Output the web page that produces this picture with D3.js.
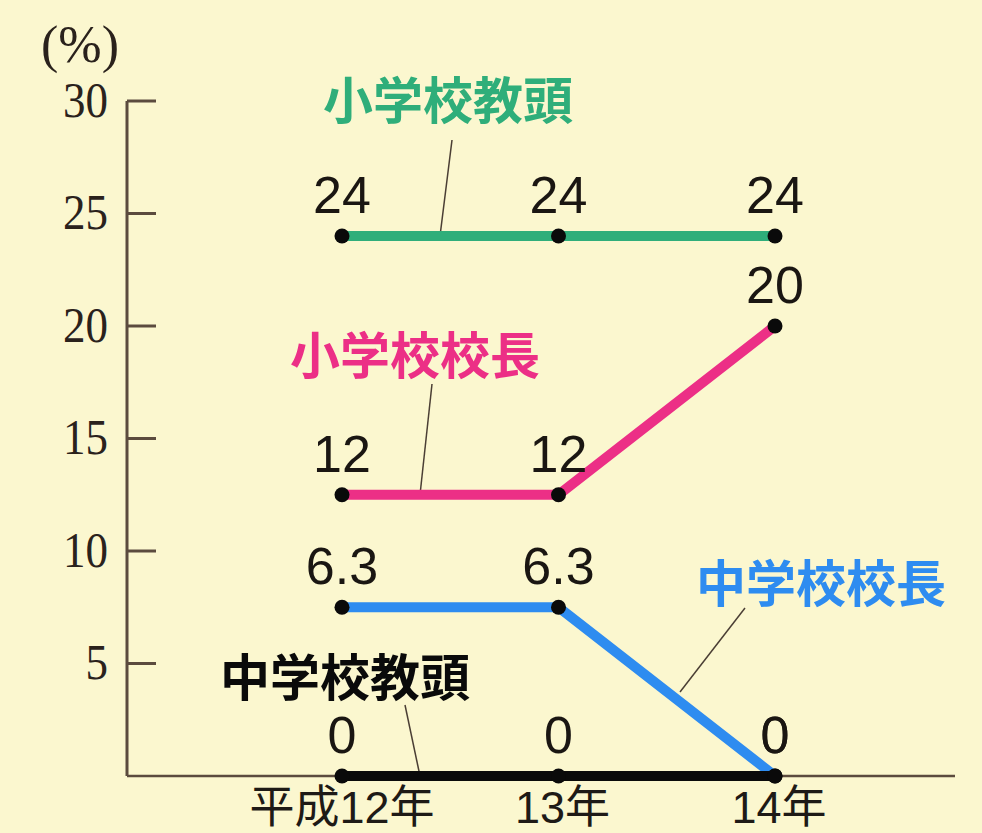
<!DOCTYPE html>
<html lang="ja">
<head>
<meta charset="utf-8">
<title>line chart</title>
<script src="https://d3js.org/d3.v7.min.js"></script>
<style>
  body{margin:0;background:#fbf7cf;}
  svg{display:block;}
</style>
</head>
<body>
<div id="chart"></div>
<script>
// data
var years = ["平成12年", "13年", "14年"]
var yTicks = [5, 10, 15, 20, 25, 30]
var seriesNames = ["小学校教頭", "小学校校長", "中学校校長", "中学校教頭"]
// plotted positions as drawn in the picture
var valsElemVice = [24, 24, 24]
var valsElemHead = [12.5, 12.5, 20]
var valsJrHead = [7.5, 7.5, 0]
var valsJrVice = [0, 0, 0]
// printed labels
var lblElemVice = ["24", "24", "24"]
var lblElemHead = ["12", "12", "20"]
var lblJrHead = ["6.3", "6.3", "0"]
var lblJrVice = ["0", "0", "0"]

var w = 982, h = 833
var svg = d3.select("#chart").append("svg").attr("width", w).attr("height", h)
svg.append("rect").attr("width", w).attr("height", h).attr("fill", "#fbf7cf")

var xScale = d3.scalePoint().domain(years).range([342, 775])
var yScale = d3.scaleLinear().domain([0, 30]).range([776, 101])

var axisColor = "#5b4b3e"

// y axis
svg.append("line").attr("x1", 127).attr("x2", 127).attr("y1", yScale(30)).attr("y2", yScale(0))
  .attr("stroke", axisColor).attr("stroke-width", 3)
svg.selectAll(".tick").data(yTicks).enter().append("line")
  .attr("x1", 127).attr("x2", 156)
  .attr("y1", function(d){ return yScale(d) }).attr("y2", function(d){ return yScale(d) })
  .attr("stroke", axisColor).attr("stroke-width", 3)
svg.selectAll(".ylab").data(yTicks).enter().append("text")
  .attr("x", 108).attr("y", function(d){ return yScale(d) + 16 })
  .attr("text-anchor", "end")
  .attr("font-family", "Liberation Serif, serif").attr("font-size", 50).attr("fill", "#2a221c")
  .attr("transform", "translate(10.8,0) scale(0.9,1)")
  .text(function(d){ return d })
svg.append("text").attr("x", 80).attr("y", 62).attr("text-anchor", "middle")
  .attr("font-family", "Liberation Serif, serif").attr("font-size", 52).attr("fill", "#2a221c")
  .text("(%)")

// x axis base line
svg.append("line").attr("x1", 127).attr("x2", 955).attr("y1", yScale(0)).attr("y2", yScale(0))
  .attr("stroke", axisColor).attr("stroke-width", 2.5)

svg.selectAll(".xlab").data(years).enter().append("text")
  .attr("x", function(d){ return xScale(d) + (d == "平成12年" ? 0 : 4) })
  .attr("y", 823)
  .attr("text-anchor", "middle")
  .attr("font-family", "Liberation Sans, Noto Sans CJK JP, sans-serif").attr("font-size", 45).attr("fill", "#1e1a16")
  .text(function(d){ return d })

var series = [
  {name: seriesNames[0], vals: valsElemVice, lbls: lblElemVice, color: "#2fae7a"},
  {name: seriesNames[1], vals: valsElemHead, lbls: lblElemHead, color: "#ec2f86"},
  {name: seriesNames[2], vals: valsJrHead, lbls: lblJrHead, color: "#2e8cf0"},
  {name: seriesNames[3], vals: valsJrVice, lbls: lblJrVice, color: "#0a0a0a"}
]

var line = d3.line()
  .x(function(d, i){ return xScale(years[i]) })
  .y(function(d){ return yScale(d) })

// leader lines and series names
var nameInfo = [
  {x: 448, y: 119, lx1: 452, ly1: 140, lx2: 440, ly2: yScale(24)},
  {x: 415, y: 374, lx1: 432, ly1: 384, lx2: 420, ly2: yScale(12.5)},
  {x: 821, y: 602, lx1: 745, ly1: 608, lx2: 680, ly2: 692},
  {x: 345, y: 696, lx1: 405, ly1: 705, lx2: 420, ly2: yScale(0)}
]
series.forEach(function(s, k){
  var n = nameInfo[k]
  svg.append("line").attr("x1", n.lx1).attr("y1", n.ly1).attr("x2", n.lx2).attr("y2", n.ly2)
    .attr("stroke", "#4a3e34").attr("stroke-width", 1.5)
})

series.forEach(function(s, k){
  svg.append("path").datum(s.vals).attr("d", line)
    .attr("fill", "none").attr("stroke", s.color).attr("stroke-width", 10)
    .attr("stroke-linejoin", "round")
})
series.forEach(function(s, k){
  svg.selectAll(".dot" + k).data(s.vals).enter().append("circle")
    .attr("cx", function(d, i){ return xScale(years[i]) })
    .attr("cy", function(d){ return yScale(d) })
    .attr("r", 7.5).attr("fill", "#0a0a0a")
  svg.selectAll(".vl" + k).data(s.vals).enter().append("text")
    .attr("x", function(d, i){ return xScale(years[i]) })
    .attr("y", function(d){ return yScale(d) - 23 })
    .attr("text-anchor", "middle")
    .attr("font-family", "Liberation Sans, Arial, sans-serif").attr("font-size", 52).attr("fill", "#1a1612")
    .text(function(d, i){ return s.lbls[i] })
  var n = nameInfo[k]
  svg.append("text").attr("x", n.x).attr("y", n.y).attr("text-anchor", "middle")
    .attr("font-family", "Noto Sans CJK JP, sans-serif").attr("font-weight", "bold")
    .attr("font-size", 50).attr("fill", s.color)
    .text(s.name)
})
</script>
</body>
</html>
